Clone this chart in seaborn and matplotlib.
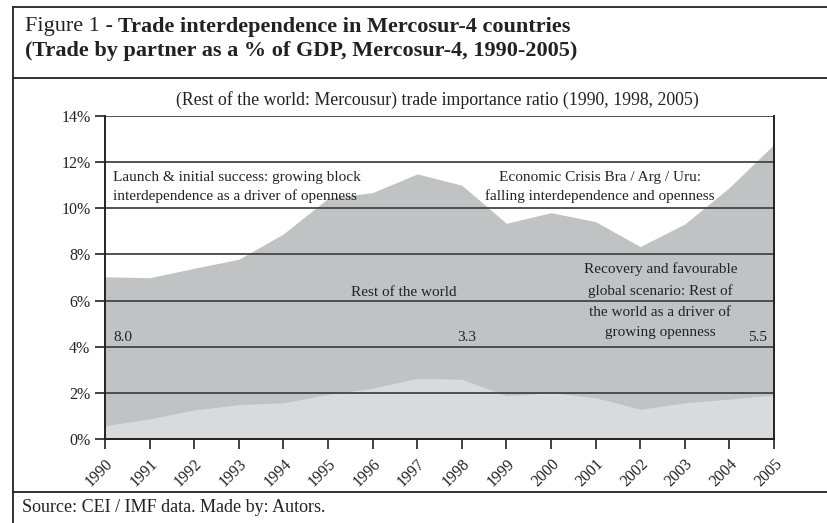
import matplotlib
matplotlib.use("Agg")
import matplotlib.pyplot as plt
import matplotlib.transforms as mtransforms
import seaborn as sns
import pandas as pd
from matplotlib.lines import Line2D
from matplotlib.ticker import FuncFormatter

years = list(range(1990, 2006))
# total trade as % of GDP (top of the dark area)
total_trade = [7.03, 6.99, 7.4, 7.79, 8.89, 10.43, 10.68, 11.49, 11.0,
               9.35, 9.81, 9.42, 8.34, 9.32, 10.9, 12.77]
# intra-Mercosur trade as % of GDP (light area)
mercosur_trade = [0.58, 0.87, 1.26, 1.49, 1.57, 1.94, 2.2, 2.63, 2.59,
                  1.88, 2.01, 1.79, 1.29, 1.57, 1.73, 1.91]
ratio_labels = ["8.0", "3.3", "5.5"]

df = pd.DataFrame({"year": years, "total": total_trade, "mercosur": mercosur_trade})

sns.set_style("white")
plt.rcParams["font.family"] = ["Liberation Serif", "DejaVu Serif"]
plt.rcParams["text.color"] = "#222222"

W, H = 828, 523
fig = plt.figure(figsize=(W / 100, H / 100), dpi=100)
ax = fig.add_axes([105 / W, 1 - 439 / H, 669 / W, 323 / H])

dark = "#c1c2c4"
light = "#d9dadc"
ax.fill_between(df["year"], 0, df["total"], color=dark, lw=0, zorder=1)
ax.fill_between(df["year"], 0, df["mercosur"], color=light, lw=0, zorder=1)
sns.lineplot(data=df, x="year", y="total", ax=ax, lw=0)

ax.set_xlim(1990, 2005)
ax.set_ylim(0, 14)
ax.set_yticks(range(0, 15, 2))
ax.set_xticks(years)
ax.yaxis.set_major_formatter(FuncFormatter(lambda v, p: f"{v:.0f}%"))
ax.set_xticklabels([str(y) for y in years], rotation=45, ha="right",
                   rotation_mode="anchor")
shift = mtransforms.ScaledTranslation(9 / 100, 0, fig.dpi_scale_trans)
for lab in ax.get_xticklabels():
    lab.set_transform(lab.get_transform() + shift)
ax.tick_params(axis="both", labelsize=11.5, colors="#222222", length=7,
               width=1.2, direction="out", bottom=True, left=True)
ax.tick_params(axis="x", pad=5)
ax.set_xlabel("")
ax.set_ylabel("")

for y in range(2, 15, 2):
    ax.axhline(y, color="#444444", lw=1.3, zorder=2)
for s in ax.spines.values():
    s.set_color("#222222")
    s.set_linewidth(1.4)
    s.set_zorder(3)
ax.spines["top"].set_visible(False)

fs = 11
ax.text(1990.18, 10.93, "Launch & initial success: growing block\ninterdependence as a driver of openness",
        fontsize=fs, ha="left", va="center", linespacing=1.45, zorder=4)
ax.text(2001.1, 10.93, "Economic Crisis Bra / Arg / Uru:\nfalling interdependence and openness",
        fontsize=fs, ha="center", va="center", linespacing=1.45, zorder=4)
ax.text(1996.7, 6.35, "Rest of the world", fontsize=fs, ha="center", va="center", zorder=4)
ax.text(2002.45, 5.98, "Recovery and favourable\nglobal scenario: Rest of\nthe world as a driver of\ngrowing openness",
        fontsize=fs, ha="center", va="center", linespacing=1.75, zorder=4)
ax.text(1990.18, 4.4, ratio_labels[0], fontsize=fs, ha="left", va="center", zorder=4)
ax.text(1998.1, 4.4, ratio_labels[1], fontsize=fs, ha="center", va="center", zorder=4)
ax.text(2004.85, 4.4, ratio_labels[2], fontsize=fs, ha="right", va="center", zorder=4)

fig.text(437 / W, 1 - 100 / H,
         "(Rest of the world: Mercousur) trade importance ratio (1990, 1998, 2005)",
         fontsize=12.8, ha="center", va="center")

# title: regular prefix, bold rest
t1 = fig.text(25 / W, 1 - 27 / H, "Figure 1 - ", fontsize=16, ha="left", va="center")
fig.canvas.draw()
bb = t1.get_window_extent()
fig.text(bb.x1 / W, 1 - 27 / H, "Trade interdependence in Mercosur-4 countries",
         fontsize=16, fontweight="bold", ha="left", va="center")
fig.text(25 / W, 1 - 51 / H, "(Trade by partner as a % of GDP, Mercosur-4, 1990-2005)",
         fontsize=16, fontweight="bold", ha="left", va="center")

fig.text(22 / W, 1 - 508 / H, "Source: CEI / IMF data. Made by: Autors.",
         fontsize=13, ha="left", va="center")

# frame lines
lc = "#222222"
fig.add_artist(Line2D([13 / W, 1], [1 - 7 / H, 1 - 7 / H], color=lc, lw=1.3))
fig.add_artist(Line2D([13 / W, 1], [1 - 78 / H, 1 - 78 / H], color=lc, lw=1.3))
fig.add_artist(Line2D([13 / W, 1], [1 - 492 / H, 1 - 492 / H], color=lc, lw=1.3))
fig.add_artist(Line2D([13 / W, 13 / W], [1 - 7 / H, 0], color=lc, lw=1.3))

fig.savefig("out.png", dpi=100)
